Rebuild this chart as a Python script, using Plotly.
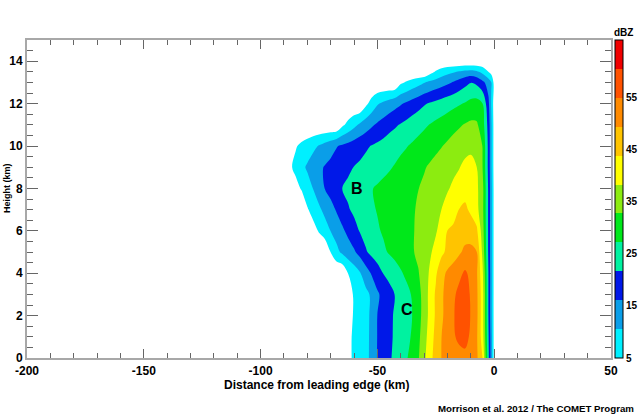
import plotly.graph_objects as go

# ---- data -----------------------------------------------------------------
# grid node positions (km from leading edge) and heights (km)
x_km = [-90, -87.5, -85, -82.5, -80, -77.5, -75, -72.5, -70, -67.5, -65, -62.5,
        -60, -57.5, -55, -52.5, -50, -47.5, -45, -42.5, -40, -37.5, -35, -32.5,
        -30, -27.5, -25, -22.5, -20, -17.5, -15, -12.5, -10, -7.5, -5, -2.5,
        -1.25, 0, 1.25]
heights_km = [0, 1, 2, 3, 4, 5, 6, 7, 8, 9, 10, 11, 12, 13, 13.5, 14]

# reflectivity (dBZ) along each height row, estimated from the contour bands
dbz_00km = [0, 0, 0, 0, 0, 0, 0, 0, 0, 0, 0, 4, 5.7, 7.5, 9.2, 11.7, 16.5, 18.7, 20.8, 22.9, 24.8, 26.8, 29.4, 32.2, 37.2, 42, 46.3, 49.6, 50.5, 51.5, 52.5, 53, 52, 50.5, 43.9, 23.3, 13.4, 3, 0]
dbz_01km = [0, 0, 0, 0, 0, 0, 0, 0, 0, 0, 0, 4, 5.7, 7.5, 9.2, 11.6, 16.3, 18.4, 20.5, 22.4, 24.1, 25.8, 27.9, 31.4, 36.1, 41.1, 45.5, 49.5, 51.7, 54.1, 56.5, 57.5, 53.7, 50.3, 41.1, 22.5, 13, 3, 0]
dbz_02km = [0, 0, 0, 0, 0, 0, 0, 0, 0, 0, 0, 3.4, 5.4, 7.2, 9.1, 11.5, 16.2, 18.3, 20.4, 22.3, 24, 25.6, 27.3, 30.7, 35, 40.2, 44.7, 48.6, 51.6, 54.4, 57.5, 58.5, 54.6, 50.9, 40.8, 21.8, 12.3, 3, 0]
dbz_03km = [0, 0, 0, 0, 0, 0, 0, 0, 0, 0, 0, 3.4, 5.4, 7.2, 9.1, 11.4, 15.3, 17.7, 19.7, 21.8, 23.7, 25.6, 27.8, 30.9, 35, 40.2, 44.7, 48.6, 51.4, 54, 56.5, 58, 54.3, 50.8, 40.8, 21.8, 12.3, 3, 0]
dbz_04km = [0, 0, 0, 0, 0, 0, 0, 0, 0, 0, 0, 5.1, 7.5, 10.1, 13.4, 16.6, 19.2, 21.8, 23.3, 24.9, 26.6, 28.4, 30.4, 32.4, 35.6, 39.1, 43.1, 47.6, 50.4, 52, 53.7, 55.8, 53.7, 50.3, 39.5, 21.8, 12.3, 3, 0]
dbz_05km = [0, 0, 0, 0, 0, 0, 0, 0, 5.1, 9, 11.7, 13.5, 15.4, 18, 21.1, 23, 24.6, 26.2, 27.7, 28.8, 30, 31.2, 32.3, 33.9, 35.7, 37.6, 40, 42.8, 45, 46.8, 48.7, 50.5, 50.8, 49.6, 37.1, 21, 12.3, 3, 0]
dbz_06km = [0, 0, 0, 0, 0, 3, 5.5, 8.1, 10.7, 12.9, 15.2, 17.5, 19.8, 22, 23.5, 25.1, 26.6, 27.8, 28.7, 29.6, 30.6, 31.5, 32.4, 33.6, 35, 36.4, 37.8, 40.4, 44, 44.8, 46, 47.3, 47, 45, 35.5, 21, 12.3, 3, 0]
dbz_07km = [0, 0, 0, 0, 4.5, 7, 9.6, 12, 14.3, 16.6, 18.9, 21.2, 22.7, 24, 25.2, 26.5, 27.5, 28.3, 29.1, 29.9, 30.7, 31.5, 32.3, 33.3, 34.5, 35.8, 37, 38.4, 40.2, 42, 44, 45, 42.8, 40, 34.4, 21, 12.3, 3, 0]
dbz_08km = [0, 0, 3, 5.5, 8.1, 10.7, 13.4, 16.2, 18, 19.8, 21.8, 22.8, 23.8, 24.9, 25.9, 27, 27.8, 28.5, 29.2, 29.9, 30.6, 31.3, 32, 32.7, 33.6, 34.6, 35.8, 36.8, 37.9, 39.2, 40.5, 41.8, 41.5, 39.5, 34.6, 21, 12.3, 3, 0]
dbz_09km = [0, 4, 6.5, 9.1, 11.3, 13.2, 15, 16.5, 17.6, 18.6, 19.6, 20.7, 21.8, 22.5, 23.4, 24.2, 25, 25.9, 26.7, 27.6, 28.6, 29.5, 30.5, 31.5, 32.4, 33.4, 34.3, 35.3, 36.2, 37.2, 38.1, 39.6, 39.5, 38.4, 32.9, 20.3, 11.6, 2.5, 0]
dbz_10km = [0, 0, 4.5, 6.2, 7.6, 9.3, 10.9, 12.5, 14.1, 15.8, 16.9, 17.9, 18.9, 19.9, 20.9, 21.9, 22.7, 23.6, 24.5, 25.3, 26.2, 27, 27.9, 28.9, 29.8, 30.7, 31.7, 32.6, 33.6, 34.6, 35.5, 36.5, 37.5, 35.2, 32.7, 20.3, 11.6, 2.5, 0]
dbz_11km = [0, 0, 0, 0, 0, 0, 0, 0, 0, 0, 4, 6.5, 9.1, 11.4, 13.4, 15.3, 16.9, 18.2, 19.8, 20.9, 22.1, 23.2, 24.3, 25.3, 26.4, 27.4, 28.4, 29.3, 30.3, 31.3, 32.2, 33.1, 33.8, 33.5, 30, 19.6, 11.5, 2.5, 0]
dbz_12km = [0, 0, 0, 0, 0, 0, 0, 0, 0, 0, 0, 0, 0, 0, 3.7, 6.9, 10, 11.6, 12.9, 14.3, 15.6, 16.9, 18.4, 19.7, 21.1, 22.2, 23.1, 24, 24.9, 25.8, 26.7, 27.6, 28.8, 29.3, 27.3, 17.6, 10.3, 2, 0]
dbz_13km = [0, 0, 0, 0, 0, 0, 0, 0, 0, 0, 0, 0, 0, 0, 0, 0, 0, 0, 0, 0, 4.1, 5.6, 7.2, 8.7, 10.3, 11.6, 12.8, 14, 15.1, 16.5, 18.2, 20, 21.5, 20.5, 17.5, 13.7, 10.7, 3, 0]
dbz_13p5km = [0, 0, 0, 0, 0, 0, 0, 0, 0, 0, 0, 0, 0, 0, 0, 0, 0, 0, 0, 0, 0, 0, 0, 0, 0, 3, 5.5, 7.5, 9, 10, 11, 12, 12.5, 11.5, 9, 5, 3, 0, 0]
dbz_14km = [0, 0, 0, 0, 0, 0, 0, 0, 0, 0, 0, 0, 0, 0, 0, 0, 0, 0, 0, 0, 0, 0, 0, 0, 0, 0, 0, 0, 0, 0, 0, 0, 0, 0, 0, 0, 0, 0, 0]

# contour levels / colour bar
level_start = 5.0
level_step = 50.0 / 9.0
n_levels = 11
band_colors = ['#00f0ff', '#0a9ee8', '#0018e8', '#00f2a0', '#00e81a', '#8cec10',
               '#ffff00', '#ffc400', '#ff8a00', '#ff5200', '#f00000']
cbar_ticks = [5, 15, 25, 35, 45, 55]
x_ticks = [-200, -150, -100, -50, 0, 50]
y_ticks = [0, 2, 4, 6, 8, 10, 12, 14]

labels = [("B", -58.7, 8.0), ("C", -37.3, 2.3)]
# ---------------------------------------------------------------------------

dbz = [dbz_00km, dbz_01km, dbz_02km, dbz_03km, dbz_04km, dbz_05km, dbz_06km,
       dbz_07km, dbz_08km, dbz_09km, dbz_10km, dbz_11km, dbz_12km, dbz_13km,
       dbz_13p5km, dbz_14km]

FONT = "Liberation Sans"

# contour fill colours: first entry is the (white) region below 5 dBZ
fill_scale = [[0.0, '#ffffff']]
for i, c in enumerate(band_colors):
    fill_scale.append([(i + 1) / len(band_colors), c])

# stepped scale for the colour bar
cmax = level_start + n_levels * level_step
bar_scale = []
for i, c in enumerate(band_colors):
    bar_scale.append([i / n_levels, c])
    bar_scale.append([(i + 1) / n_levels, c])

fig = go.Figure()
fig.add_trace(go.Contour(
    x=x_km, y=heights_km, z=dbz,
    colorscale=fill_scale,
    autocontour=False,
    contours=dict(start=level_start,
                  end=level_start + (n_levels - 1) * level_step + 0.01,
                  size=level_step, coloring='fill', showlines=False),
    line=dict(width=0, smoothing=1),
    showscale=False,
    hoverinfo='skip',
))

fig.add_trace(go.Scatter(
    x=[None], y=[None], mode='markers', showlegend=False, hoverinfo='skip',
    marker=dict(color=[level_start], colorscale=bar_scale, cmin=level_start,
                cmax=cmax, showscale=True,
                colorbar=dict(x=(615 - 27) / 584, xanchor='left', xpad=0,
                              y=0.5, yanchor='middle', len=1, lenmode='fraction',
                              ypad=0, thickness=8, outlinewidth=1,
                              outlinecolor='black', ticks='',
                              tickvals=cbar_ticks,
                              ticktext=[str(v) for v in cbar_ticks],
                              tickfont=dict(family=FONT, size=10, color='black',
                                            weight='bold')))
))

for txt, lx, ly in labels:
    fig.add_annotation(x=lx, y=ly, text=txt, showarrow=False,
                       font=dict(family=FONT, size=16, color='black', weight='bold'))

axis_common = dict(showgrid=False, zeroline=False, showline=True, mirror='ticks',
                   linecolor='#a8a8a8', linewidth=2, ticks='inside',
                   tickcolor='#666666', tickwidth=1, automargin=False,
                   tickfont=dict(family=FONT, size=12, color='black', weight='bold'))

fig.update_xaxes(range=[-200, 50], tickmode='array', tickvals=x_ticks,
                 ticktext=[str(v) for v in x_ticks], ticklen=9,
                 ticklabelstandoff=1,
                 minor=dict(tick0=-200, dtick=10, ticks='inside', ticklen=5,
                            tickcolor='#666666', tickwidth=1),
                 **axis_common)
fig.update_yaxes(range=[0, 15], tickmode='array', tickvals=y_ticks,
                 ticktext=[str(v) for v in y_ticks], ticklen=11,
                 minor=dict(tick0=0, dtick=0.5, ticks='inside', ticklen=6,
                            tickcolor='#666666', tickwidth=1),
                 **axis_common)

# axis titles, colour-bar unit and credit line
fig.add_annotation(xref='paper', yref='paper', x=(316 - 27) / 584,
                   y=(358 - 385) / 318, text='Distance from leading edge (km)',
                   showarrow=False, xanchor='center', yanchor='middle',
                   font=dict(family=FONT, size=12, color='black', weight='bold'))
fig.add_annotation(xref='paper', yref='paper', x=(7 - 27) / 584,
                   y=(358 - 188) / 318, text='Height (km)', textangle=-90,
                   showarrow=False, xanchor='center', yanchor='middle',
                   font=dict(family=FONT, size=9, color='black', weight='bold'))
fig.add_annotation(xref='paper', yref='paper', x=(623 - 27) / 584,
                   y=(358 - 33) / 318, text='dBZ', showarrow=False,
                   xanchor='center', yanchor='middle',
                   font=dict(family=FONT, size=10, color='black', weight='bold'))
fig.add_annotation(xref='paper', yref='paper', x=(636 - 27) / 584,
                   y=(358 - 408) / 318, text='Morrison et al. 2012 / The COMET Program',
                   showarrow=False, xanchor='right', yanchor='middle',
                   font=dict(family=FONT, size=9.7, color='black', weight='bold'))

fig.update_layout(width=640, height=420, paper_bgcolor='white',
                  plot_bgcolor='white', showlegend=False,
                  margin=dict(l=27, r=29, t=40, b=62, autoexpand=False),
                  font=dict(family=FONT))

fig.write_html("out.html", config={'displayModeBar': False},
               post_script="document.body.style.margin='0';"
                           "document.body.style.overflow='hidden';")
